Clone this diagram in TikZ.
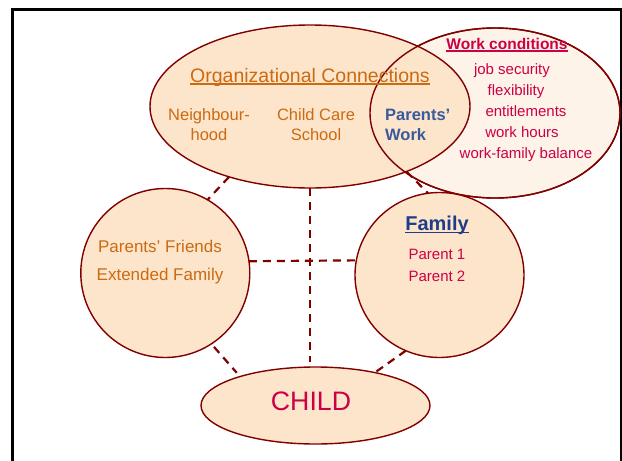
\documentclass[tikz,border=0pt]{standalone}
\usepackage{fontspec}
\setmainfont{Liberation Sans}
\usetikzlibrary{shapes.geometric}

\definecolor{peach}{HTML}{FDE5CC}
\definecolor{paleorange}{HTML}{FEF3E9}
\definecolor{rim}{HTML}{800000}
\definecolor{orangetext}{HTML}{CC6A10}
\definecolor{redtext}{HTML}{CC0044}
\definecolor{bluetext}{HTML}{3A5A9A}
\definecolor{navytext}{HTML}{1F3C88}

\tikzstyle{blob} = [ellipse, draw=rim, line width=1.4pt, fill=peach, inner sep=0pt, outer sep=0pt]
\tikzstyle{link} = [draw=rim, line width=2.2pt, dash pattern=on 8pt off 6pt]
\tikzstyle{txt} = [inner sep=0pt, anchor=base, align=center]

\newcommand{\fs}[2]{\fontsize{#1}{#2}\selectfont}
\newcommand{\headline}[1]{\setbox0\hbox{#1}\rlap{\raisebox{-2.6pt}{\rule{\wd0}{1.3pt}}}\box0}

\begin{document}
\begin{tikzpicture}[x=1pt, y=-1pt]
    \useasboundingbox (0,0) rectangle (622,461);
    \draw[line width=3pt] (12.5,461) -- (12.5,9.5) -- (621,9.5) -- (621,461);

    % circles
    \node[blob, fill=paleorange, minimum width=250pt, minimum height=170pt] (work) at (495,113) {};
    \node[blob, minimum width=320pt, minimum height=163pt] (org) at (310,106.5) {};
    \node[ellipse, draw=rim, line width=1.4pt, inner sep=0pt, minimum width=250pt, minimum height=170pt] (workrim) at (work.center) {};
    \node[blob, minimum width=169pt, minimum height=169pt] (friends) at (165.3,273) {};
    \node[blob, minimum width=169pt, minimum height=165pt] (family) at (439.5,275) {};
    \node[blob, minimum width=229pt, minimum height=77pt] (child) at (315.5,405.5) {};

    % dashed links
    \draw[link] (org.221) -- (friends.60);
    \draw[link] (org.-34) -- (family.98);
    \draw[link, shorten >=5pt] (org.south) -- (org.south |- child.north);
    \draw[link] (friends.8) -- (family.170);
    \draw[link, shorten <=4pt, shorten >=5pt] (friends.-57) -- (child.159);
    \draw[link, shorten >=2pt] (family.-114) -- (child.29);

    % organizational connections
    \node[txt, text=orangetext, font=\fs{19.5}{23}] (orgtitle) at (310,82) {\headline{Organizational Connections}};
    \node[txt, text=orangetext, font=\fs{16.5}{20}] (hood) at (209,140.5) {Neighbour-\\hood};
    \node[txt, text=orangetext, font=\fs{16.5}{20}] (care) at (316,140.5) {Child Care\\School};
    \node[txt, anchor=base west, align=left, text=bluetext, font=\fs{16.5}{20}\bfseries] (pwork) at (385,140.5) {Parents’\\Work};

    % work conditions
    \node[txt, text=redtext, font=\fs{15.5}{18}\bfseries] (worktitle) at (507,49) {\headline{Work conditions}};
    \foreach \x/\y/\t [count=\i] in {512/74/job security, 516/95/flexibility, 526/116/entitlements, 522/137/work hours, 526/158/work-family balance}
        \node[txt, text=redtext, font=\fs{15}{18}] (item\i) at (\x,\y) {\t};

    % friends and family
    \node[txt, text=orangetext, font=\fs{17}{28}] (friendtext) at (160,280) {Parents’ Friends\\Extended Family};
    \node[txt, text=navytext, font=\fs{20}{24}\bfseries] (famtitle) at (437,230.5) {\headline{Family}};
    \node[txt, text=redtext, font=\fs{15}{22}] (parents) at (437,281) {Parent 1\\Parent 2};

    % child
    \node[txt, text=redtext, font=\fs{26.7}{30}] (childtext) at (311,410.5) {CHILD};
\end{tikzpicture}
\end{document}
